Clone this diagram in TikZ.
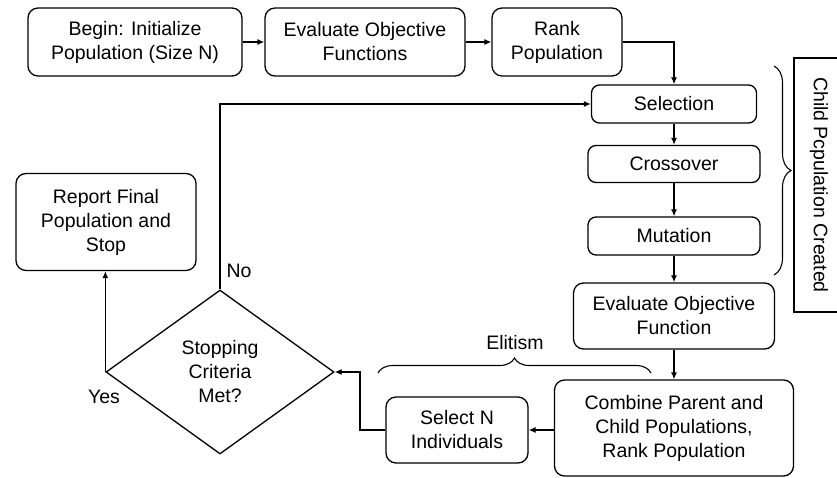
\documentclass[tikz,border=0pt]{standalone}
\usepackage{fontspec}
\setmainfont{Liberation Sans}
\usetikzlibrary{shapes.geometric,arrows.meta,decorations.pathreplacing}

\begin{document}
\begin{tikzpicture}[x=1pt,y=-1pt,
        every node/.style={font=\fontsize{19.5}{24}\selectfont},
        block/.style={draw,line width=1.3pt,rounded corners=10pt,align=center,inner sep=0pt},
        decision/.style={draw,diamond,line width=1.3pt,align=center,inner sep=0pt},
        flow/.style={line width=1.3pt,-{Latex[length=7pt,width=6pt]}},
        curly/.style={line width=1.1pt,decorate,decoration={brace,amplitude=#1}}]
    \useasboundingbox (0,0) rectangle (837,478);
    % top row
    \node[block,minimum width=214pt,minimum height=68pt] (init) at (135,42)
        {Begin: Initialize\\Population (Size N)};
    \node[block,minimum width=200pt,minimum height=68pt] (evalfun) at (365,42)
        {Evaluate Objective\\Functions};
    \node[block,minimum width=130pt,minimum height=68pt] (rank) at (557,42)
        {Rank\\Population};
    % child population steps
    \node[block,rounded corners=8pt,minimum width=165pt,minimum height=38pt] (sel) at (674,104)
        {Selection};
    \node[block,rounded corners=8pt,minimum width=172pt,minimum height=37pt] (cross) at (674,164)
        {Crossover};
    \node[block,rounded corners=8pt,minimum width=172pt,minimum height=38pt] (mut) at (674,236)
        {Mutation};
    \node[block,minimum width=201pt,minimum height=66pt] (evalobj) at (674,316)
        {Evaluate Objective\\Function};
    \node[block,minimum width=239pt,minimum height=96pt] (comb) at (674,428)
        {Combine Parent and\\Child Populations,\\Rank Population};
    \node[block,minimum width=142pt,minimum height=66pt] (selN) at (457,430)
        {Select N\\Individuals};
    % decision and end
    \node[decision,minimum width=228pt,minimum height=164pt] (stop) at (220,372)
        {Stopping\\Criteria\\Met?};
    \node[block,minimum width=180pt,minimum height=97pt] (report) at (106,222)
        {Report Final\\Population and\\Stop};
    \coordinate (bend) at (360,430);
    % connectors
    \draw[flow] (init) -- (evalfun);
    \draw[flow] (evalfun) -- (rank);
    \draw[flow] (rank.east) -| (sel.north);
    \draw[flow] (sel) -- (cross);
    \draw[flow] (cross) -- (mut);
    \draw[flow] (mut) -- (evalobj);
    \draw[flow] (evalobj) -- (comb);
    \draw[flow] (comb.west |- selN.east) -- (selN.east);
    \draw[flow] (selN.west) -- (bend) |- (stop.east);
    \draw[flow] (stop.north) |- (sel.west);
    \draw[flow] (stop.west) -- (stop.west |- report.south);
    % labels
    \node (no) at (239,271) {No};
    \node (yes) at (104,397) {Yes};
    \draw[curly=15pt] (378,373) -- (651,373);
    \node (elit) at (515,343) {Elitism};
    \draw[curly=17pt] (774,66) -- (774,275);
    \draw[line width=1.1pt] (845,58) -- (794,58) -- (794,312) -- (845,312);
    \node[rotate=-90] (child) at (819,185) {Child Pcpulation Created};
\end{tikzpicture}
\end{document}
